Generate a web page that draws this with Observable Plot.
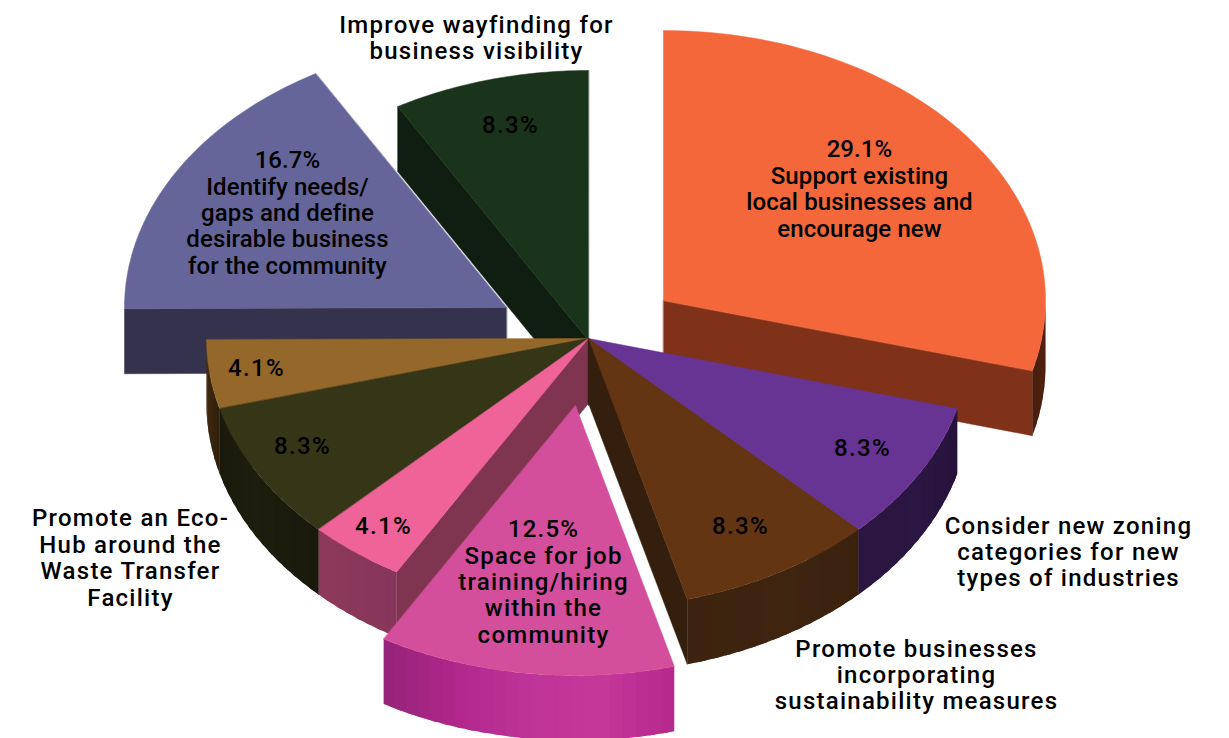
<!DOCTYPE html>
<html>
<head>
<meta charset="utf-8">
<script src="https://cdn.jsdelivr.net/npm/d3@7"></script>
<script src="https://cdn.jsdelivr.net/npm/@observablehq/plot@0.6"></script>
<style>
  html, body { margin: 0; padding: 0; background: #fff; }
  svg { display: block; }
</style>
</head>
<body>
<div id="chart"></div>
<script>
// Priorities for the business district, as shares of responses, clockwise from 12 o'clock.
const categories = ["Support existing", "Consider new zoning", "Promote businesses", "Space for job training", "Pink share", "Promote an Eco-Hub", "Tan share", "Identify needs", "Improve wayfinding"];
const shares = [29.1, 8.3, 8.3, 12.5, 4.1, 8.3, 4.1, 16.7, 8.3];

// Face colours for each slice; rim stops run clockwise along the arc.
const topColors = ["#f3673a", "#673494", "#633512", "#d44f9b", "#ef6399", "#353518", "#94672a", "#66659a", "#19341b"];
const cutColors = ["#7f3219", "#2a1640", "#341e0d", "#942478", "#7f344f", "#1c1c0d", "#4a2d12", "#34324c", "#0f1e10"];
const rimColors = [
  ["#4f2110", "#4a1f0f"],
  ["#241238", "#2c1644", "#2a1640"],
  ["#3a220f", "#3f2510", "#3c230f"],
  ["#b5278c", "#c5399a", "#bd3396", "#b0268a", "#942478"],
  ["#85365a", "#8e3a5a"],
  ["#1a1a0c", "#1e1e0e", "#1a1a0c"],
  ["#2e1f0c", "#4a2d12"],
  ["#34324c", "#34324c"],
  ["#0f1e10", "#0f1e10"]
];

// How far each slice is pulled out of the pie.
const pullX = [75, 0, 0, -13, 0, 0, 0, -82, 0];
const pullY = [-38, 0, 0, 67, 0, 0, 0, -31, 2];

// Back slices are painted first so the front ones overlap them.
const paintOrder = [8, 7, 0, 6, 5, 4, 1, 2, 3];

const centerX = 588, centerY = 338, radiusX = 382, radiusY = 270, depth = 65;

const total = d3.sum(shares);
const ends = d3.cumsum(shares).map((s) => (s / total) * 360);
const starts = ends.map((_, i) => (i ? ends[i - 1] : 0));

const rad = (deg) => (deg * Math.PI) / 180;
const onRim = (i, deg, drop = 0) => ({
  x: centerX + pullX[i] + radiusX * Math.sin(rad(deg)),
  y: centerY + pullY[i] - radiusY * Math.cos(rad(deg)) + drop
});
const apex = (i, drop = 0) => ({x: centerX + pullX[i], y: centerY + pullY[i] + drop});

// Flat faces carry a hairline stroke; shaded wall bands overlap instead.
const flatFaces = [];
const addFace = (key, fill, points, stroked, layer) =>
  points.forEach((p) => layer.push({...p, key, fill, stroke: stroked ? fill : "none"}));

for (const i of paintOrder) {
  const a0 = starts[i], a1 = ends[i];

  // Side walls of the cut, visible only when they face the viewer.
  if (a0 > 180 && a0 < 360) {
    addFace(`cut0-${i}`, cutColors[i], [apex(i), onRim(i, a0), onRim(i, a0, depth), apex(i, depth)], true, flatFaces);
  }
  if (a1 > 0 && a1 < 180) {
    addFace(`cut1-${i}`, cutColors[i], [apex(i), onRim(i, a1), onRim(i, a1, depth), apex(i, depth)], true, flatFaces);
  }

  // Outer wall as narrow bands, shaded along the arc; each band reaches under the next.
  const from = Math.max(a0, 90), to = Math.min(a1, 270);
  if (to > from) {
    const shade = d3.piecewise(d3.interpolateRgb, rimColors[i]);
    const bands = Math.max(1, Math.ceil((to - from) / 2));
    const step = (to - from) / bands;
    for (let b = bands - 1; b >= 0; --b) {
      const u = from + step * b;
      const v = from + step * (b + 1);
      const w = Math.max(from, u - step * 0.5);
      const along = d3.range(0, 7).map((k) => w + ((v - w) * k) / 6);
      addFace(`rim-${i}-${b}`, shade((b + 0.5) / bands), [
        ...along.map((d) => onRim(i, d)),
        ...along.slice().reverse().map((d) => onRim(i, d, depth))
      ], false, flatFaces);
    }
  }

  // Top face.
  const arc = d3.range(0, 61).map((k) => onRim(i, a0 + ((a1 - a0) * k) / 60));
  addFace(`top-${i}`, topColors[i], [apex(i), ...arc], true, flatFaces);
}

// Text placed on and around the slices.
const blockLabels = [
  {x: 859, y: 188, text: "29.1%\nSupport existing\nlocal businesses and\nencourage new"},
  {x: 287, y: 212, text: "16.7%\nIdentify needs/\ngaps and define\ndesirable business\nfor the community"}
];
const percentLabels = [
  {x: 510, y: 124, text: "8.3%"},
  {x: 862, y: 447, text: "8.3%"},
  {x: 740, y: 525, text: "8.3%"},
  {x: 302, y: 445, text: "8.3%"},
  {x: 256, y: 367, text: "4.1%"},
  {x: 383, y: 525, text: "4.1%"}
];
const wideLabels = [
  {x: 543, y: 581, text: "12.5%\nSpace for job\ntraining/hiring\nwithin the\ncommunity"},
  {x: 476, y: 37, text: "Improve wayfinding for\nbusiness visibility"},
  {x: 1068, y: 551, text: "Consider new zoning\ncategories for new\ntypes of industries"},
  {x: 916, y: 674, text: "Promote businesses\nincorporating\nsustainability measures"},
  {x: 130, y: 557, text: "Promote an Eco-\nHub around the\nWaste Transfer\nFacility"}
];

const textStyle = {
  x: "x", y: "y", text: "text",
  fontSize: 24, fontWeight: 500, lineHeight: 1.1, fill: "#000", textAnchor: "middle", lineAnchor: "middle"
};

const chart = Plot.plot({
  width: 1229,
  height: 738,
  margin: 0,
  x: {domain: [0, 1229], range: [0, 1229], axis: null},
  y: {domain: [0, 738], range: [0, 738], axis: null},
  style: {fontFamily: "Roboto, sans-serif", background: "#fff"},
  marks: [
    Plot.line(flatFaces, {x: "x", y: "y", z: "key", fill: "fill", stroke: "stroke", strokeWidth: 0.5, curve: "linear-closed"}),
    Plot.text(blockLabels, textStyle),
    Plot.text(percentLabels, textStyle),
    Plot.text(wideLabels, textStyle)
  ]
});

// Tracking differs between the three groups of text.
const tracking = ["0.1px", "1.4px", "1.25px"];
chart.querySelectorAll('g[aria-label="text"]').forEach((g, i) => {
  g.style.letterSpacing = tracking[i];
});

document.getElementById("chart").append(chart);
</script>
</body>
</html>
